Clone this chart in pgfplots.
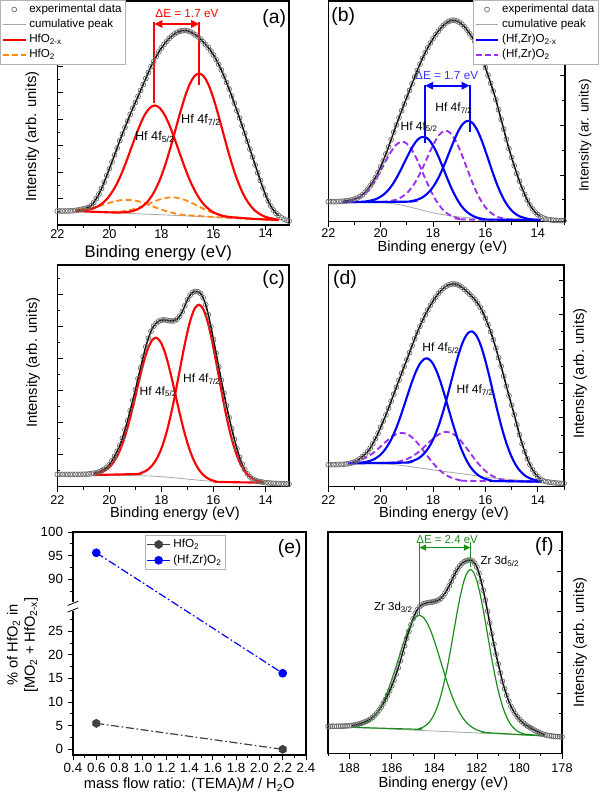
\documentclass[border=0pt]{standalone}
\usepackage{fontspec}
\setmainfont{Liberation Sans}
\usepackage{pgfplots}
\usepackage{pgfplotstable}
\pgfplotsset{compat=1.18}
\usetikzlibrary{arrows.meta}

\definecolor{expgray}{HTML}{6A6A6A}
\definecolor{bggray}{HTML}{A6A6A6}
\definecolor{hfred}{HTML}{FF0000}
\definecolor{hforange}{HTML}{FF8A1C}
\definecolor{hzblue}{HTML}{0000FF}
\definecolor{hzviolet}{HTML}{9B30F0}
\definecolor{zrgreen}{HTML}{1C8C1C}
\definecolor{hexgray}{HTML}{404040}
\definecolor{dEblue}{HTML}{3030FF}

\pgfdeclareplotmark{hexagon}{%
  \pgfpathmoveto{\pgfpointpolar{90}{1.1\pgfplotmarksize}}%
  \pgfpathlineto{\pgfpointpolar{150}{1.1\pgfplotmarksize}}%
  \pgfpathlineto{\pgfpointpolar{210}{1.1\pgfplotmarksize}}%
  \pgfpathlineto{\pgfpointpolar{270}{1.1\pgfplotmarksize}}%
  \pgfpathlineto{\pgfpointpolar{330}{1.1\pgfplotmarksize}}%
  \pgfpathlineto{\pgfpointpolar{30}{1.1\pgfplotmarksize}}%
  \pgfpathclose
  \pgfusepathqfillstroke}

% Hf 4f spectrum, HfO2 film, as deposited
\pgfplotstableread{
E h
22.0 14.0
21.9 14.0
21.8 14.0
21.7 14.0
21.6 14.0
21.5 14.1
21.4 14.3
21.3 14.6
21.2 15.0
21.1 15.5
21.0 16.1
20.9 16.8
20.8 17.6
20.7 19.3
20.6 22.5
20.5 26.5
20.4 31.0
20.3 36.5
20.2 42.8
20.1 49.5
20.0 56.2
19.9 63.0
19.8 70.0
19.7 77.0
19.6 84.3
19.5 91.0
19.4 97.5
19.3 104.0
19.2 110.5
19.1 116.7
19.0 122.5
18.9 128.5
18.8 134.5
18.7 140.5
18.6 146.5
18.5 152.5
18.4 158.5
18.3 163.5
18.2 168.5
18.1 173.0
18.0 177.0
17.9 180.6
17.8 183.8
17.7 186.6
17.6 189.0
17.5 191.0
17.4 192.6
17.3 193.7
17.2 194.3
17.1 194.5
17.0 194.2
16.9 193.3
16.8 192.0
16.7 190.2
16.6 188.2
16.5 186.0
16.4 183.2
16.3 180.3
16.2 177.5
16.1 174.0
16.0 170.0
15.9 165.5
15.8 160.5
15.7 155.0
15.6 149.0
15.5 142.5
15.4 136.0
15.3 129.0
15.2 121.7
15.1 114.3
15.0 107.0
14.9 99.3
14.8 91.5
14.7 83.7
14.6 75.8
14.5 68.0
14.4 60.0
14.3 52.2
14.2 44.5
14.1 37.0
14.0 30.0
13.9 24.0
13.8 19.0
13.7 15.0
13.6 11.8
13.5 9.5
13.4 7.6
13.3 6.0
13.2 4.8
13.1 3.8
}\expA

% Hf 4f spectrum, (Hf,Zr)O2 film
\pgfplotstableread{
E h
22.0 20.0
21.9 20.0
21.8 20.0
21.7 20.1
21.6 20.2
21.5 20.4
21.4 20.6
21.3 20.9
21.2 21.3
21.1 21.8
21.0 22.6
20.9 23.6
20.8 25.0
20.7 26.8
20.6 29.3
20.5 32.3
20.4 35.8
20.3 39.7
20.2 44.2
20.1 49.2
20.0 54.8
19.9 61.0
19.8 67.7
19.7 74.7
19.6 82.0
19.5 89.5
19.4 96.8
19.3 104.0
19.2 111.0
19.1 117.7
19.0 124.5
18.9 131.3
18.8 138.0
18.7 144.8
18.6 151.3
18.5 157.5
18.4 163.5
18.3 169.0
18.2 174.0
18.1 178.7
18.0 183.0
17.9 187.0
17.8 190.5
17.7 193.7
17.6 196.5
17.5 198.7
17.4 200.3
17.3 201.3
17.2 201.5
17.1 200.8
17.0 199.5
16.9 197.5
16.8 195.0
16.7 191.7
16.6 188.0
16.5 184.3
16.4 180.0
16.3 174.5
16.2 168.3
16.1 161.5
16.0 154.0
15.9 146.5
15.8 138.5
15.7 130.7
15.6 122.0
15.5 112.0
15.4 102.2
15.3 92.5
15.2 82.5
15.1 73.0
15.0 64.3
14.9 56.0
14.8 48.0
14.7 40.5
14.6 33.5
14.5 27.3
14.4 21.5
14.3 16.8
14.2 12.8
14.1 9.5
14.0 7.0
13.9 5.2
13.8 3.8
13.7 2.8
13.6 2.2
13.5 1.8
13.4 1.5
13.3 1.3
13.2 1.2
13.1 1.1
13.0 1.0
}\expB

% Hf 4f spectrum, HfO2 film, second process
\pgfplotstableread{
E h
22.0 12.3
21.9 12.3
21.8 12.3
21.7 12.3
21.6 12.3
21.5 12.3
21.4 12.3
21.3 12.3
21.2 12.3
21.1 12.3
21.0 12.4
20.9 12.5
20.8 12.7
20.7 13.0
20.6 13.4
20.5 14.0
20.4 14.8
20.3 16.0
20.2 17.5
20.1 19.3
20.0 22.0
19.9 26.0
19.8 30.5
19.7 35.5
19.6 41.0
19.5 48.5
19.4 57.0
19.3 66.0
19.2 76.0
19.1 86.5
19.0 97.0
18.9 108.0
18.8 119.0
18.7 130.0
18.6 140.0
18.5 148.5
18.4 155.5
18.3 160.5
18.2 163.5
18.1 165.5
18.0 166.5
17.9 166.8
17.8 166.5
17.7 166.0
17.6 165.7
17.5 166.0
17.4 167.5
17.3 170.5
17.2 175.0
17.1 181.0
17.0 187.0
16.9 191.5
16.8 194.3
16.7 195.3
16.6 195.0
16.5 193.3
16.4 189.0
16.3 182.0
16.2 172.0
16.1 160.0
16.0 147.0
15.9 133.5
15.8 120.0
15.7 106.5
15.6 93.5
15.5 81.0
15.4 69.0
15.3 58.0
15.2 47.5
15.1 38.0
15.0 29.5
14.9 22.5
14.8 17.0
14.7 12.8
14.6 9.8
14.5 7.8
14.4 6.5
14.3 5.6
14.2 5.0
14.1 4.5
14.0 4.1
13.9 3.8
13.8 3.6
13.7 3.4
13.6 3.2
13.5 3.1
13.4 3.0
13.3 2.9
13.2 2.8
13.1 2.7
}\expC

% Hf 4f spectrum, (Hf,Zr)O2 film, second process
\pgfplotstableread{
E h
22.0 22.0
21.9 22.0
21.8 22.0
21.7 22.1
21.6 22.2
21.5 22.3
21.4 22.5
21.3 22.8
21.2 23.2
21.1 23.8
21.0 24.7
20.9 26.0
20.8 27.8
20.7 30.0
20.6 32.3
20.5 35.0
20.4 38.5
20.3 43.0
20.2 48.0
20.1 53.5
20.0 59.5
19.9 65.5
19.8 71.8
19.7 78.5
19.6 85.5
19.5 92.5
19.4 99.5
19.3 106.5
19.2 113.5
19.1 120.3
19.0 127.0
18.9 134.0
18.8 141.0
18.7 148.0
18.6 154.5
18.5 160.5
18.4 166.3
18.3 171.8
18.2 176.8
18.1 181.5
18.0 185.7
17.9 189.5
17.8 193.0
17.7 196.0
17.6 198.5
17.5 200.5
17.4 201.8
17.3 202.6
17.2 202.8
17.1 202.3
17.0 201.2
16.9 199.5
16.8 197.3
16.7 195.0
16.6 192.5
16.5 189.8
16.4 187.0
16.3 183.5
16.2 179.5
16.1 174.5
16.0 168.5
15.9 162.0
15.8 155.0
15.7 147.0
15.6 138.5
15.5 129.0
15.4 120.5
15.3 110.5
15.2 100.5
15.1 91.0
15.0 81.5
14.9 72.0
14.8 62.0
14.7 52.0
14.6 43.0
14.5 35.0
14.4 28.0
14.3 22.0
14.2 17.0
14.1 13.0
14.0 10.0
13.9 7.5
13.8 6.0
13.7 5.2
13.6 4.7
13.5 4.3
13.4 4.0
13.3 3.7
13.2 3.5
13.1 3.3
13.0 3.2
}\expD

% Zr 3d spectrum, (Hf,Zr)O2 film
\pgfplotstableread{
E h
189.0 27.0
188.9 27.0
188.8 27.0
188.7 27.0
188.6 27.0
188.5 27.1
188.4 27.1
188.3 27.2
188.2 27.3
188.1 27.4
188.0 27.6
187.9 27.8
187.8 28.1
187.7 28.5
187.6 29.0
187.5 29.6
187.4 30.3
187.3 31.1
187.2 32.0
187.1 33.0
187.0 34.3
186.9 36.0
186.8 38.0
186.7 40.3
186.6 43.0
186.5 46.2
186.4 49.8
186.3 53.8
186.2 58.0
186.1 62.5
186.0 67.5
185.9 73.0
185.8 79.0
185.7 85.5
185.6 92.5
185.5 100.0
185.4 107.5
185.3 115.0
185.2 122.0
185.1 128.5
185.0 134.5
184.9 139.5
184.8 143.5
184.7 146.5
184.6 148.3
184.5 149.5
184.4 150.2
184.3 150.7
184.2 151.0
184.1 151.3
184.0 151.8
183.9 152.4
183.8 153.3
183.7 154.8
183.6 157.0
183.5 160.0
183.4 163.5
183.3 167.5
183.2 172.0
183.1 176.5
183.0 180.8
182.9 184.5
182.8 187.5
182.7 189.8
182.6 191.5
182.5 192.6
182.4 193.2
182.3 193.2
182.2 192.3
182.1 190.0
182.0 186.0
181.9 180.0
181.8 172.0
181.7 163.0
181.6 153.0
181.5 142.0
181.4 130.5
181.3 119.5
181.2 109.0
181.1 99.0
181.0 89.5
180.9 80.5
180.8 72.0
180.7 64.5
180.6 58.0
180.5 52.0
180.4 47.0
180.3 43.0
180.2 39.5
180.1 36.5
180.0 34.0
179.9 32.0
179.8 30.0
179.7 28.3
179.6 27.0
179.5 25.7
179.4 24.5
179.3 23.2
179.2 22.0
179.1 21.0
179.0 20.0
178.9 19.2
178.8 18.5
178.7 18.0
178.6 17.6
178.5 17.3
178.4 17.0
178.3 16.8
178.2 16.7
178.1 16.6
178.0 16.5
}\expF

\pgfplotsset{
  xps/.style={
    scale only axis, anchor=south west, x dir=reverse, ymin=0,
    axis line style={line width=0.8pt},
    tick style={black, line width=0.6pt},
    major tick length=4pt, minor tick length=2.4pt,
    xtick={14,16,18,20,22}, minor xtick={13,15,17,19,21},
    xtick pos=left, xtick align=outside, ytick align=inside,
    yticklabels={},
    tick label style={font=\fontsize{9.5}{11}\selectfont},
    /pgf/number format/assume math mode=true,
    label style={font=\fontsize{11}{13}\selectfont},
    legend cell align=left,
    legend style={draw=gray!60, line width=0.5pt, fill=white, inner sep=1pt,
      row sep=-0.5pt, font=\fontsize{8.7}{10.2}\selectfont},
  },
  expdata/.style={only marks, mark=o, mark size=1.85pt, expgray,
    mark options={line width=0.5pt}},
  cumul/.style={black, line width=1.1pt, smooth, no marks},
  basel/.style={bggray, line width=0.6pt, no marks},
  comp/.style={line width=1.6pt, smooth, no marks},
  dashcomp/.style={line width=1.4pt, smooth, no marks, dash pattern=on 4.5pt off 2.5pt},
}
\tikzset{
  dEarrow/.style={{Triangle[length=6pt,width=5.5pt]}-{Triangle[length=6pt,width=5.5pt]}},
  annot/.style={font=\fontsize{9}{10}\selectfont},
  panel/.style={font=\fontsize{14.5}{16}\selectfont},
}

\begin{document}
\begin{tikzpicture}
\path[use as bounding box] (0,0) rectangle (450pt,594.75pt);

%% (a) HfO2: Hf 4f
\begin{axis}[xps,
  at={(42.975pt,426pt)}, width=173.78pt, height=168pt,
  xmin=13.1, xmax=22, ymax=224,
  xticklabel shift=-2pt,
  xticklabel style={inner sep=1pt},
  ytick pos=left,
  ytick={26.5,53,79.5,106,132.5,159,185.5,212},
  minor ytick={13.25,39.75,66.25,92.75,119.25,145.75,172.25,198.75},
  xlabel={Binding energy (eV)}, ylabel={Intensity (arb. units)},
  xlabel style={at={(axis description cs:0.436,-0.125)}, anchor=center, inner sep=0pt, font=\fontsize{12.5}{14}\selectfont},
  ylabel style={at={(axis description cs:-0.108,0.394)}, anchor=center},
  legend style={at={(axis description cs:-0.247,1.0045)}, anchor=north west},
]
\addlegendimage{expdata}\addlegendentry{experimental data}
\addlegendimage{basel}\addlegendentry{cumulative peak}
\addlegendimage{hfred, line width=1.6pt}\addlegendentry{HfO\textsubscript{2-x}}
\addlegendimage{hforange, line width=1.4pt, dash pattern=on 4.5pt off 2.5pt}\addlegendentry{HfO\textsubscript{2}}

\addplot[expdata, forget plot] table[x=E, y=h] {\expA};
\addplot[basel, forget plot] coordinates {(13.5,5.0) (21.3,14.0)};
\addplot[cumul, forget plot, restrict x to domain=13.5:21.3] table[x=E, y=h] {\expA};
% HfO2 doublet
\addplot[dashcomp, hforange, forget plot] coordinates {
(13.5,5.0) (14.5,6.2) (15.39,8.2) (15.75,10.0) (16.11,13.0) (16.47,17.2) (16.83,22.0)
(17.19,25.9) (17.55,27.7) (17.91,26.7) (18.27,23.6) (18.63,19.7) (18.99,16.3)
(19.35,14.2) (19.71,13.2) (20.5,13.1) (21.3,14.0)};
\addplot[dashcomp, hforange, forget plot] coordinates {
(13.5,5.0) (15.5,7.3) (17.09,9.9) (17.45,11.4) (17.81,13.8) (18.17,17.0) (18.53,20.6)
(18.89,23.7) (19.25,25.1) (19.61,24.6) (19.97,22.3) (20.33,19.5) (20.69,17.1)
(21.05,15.5) (21.3,15.0)};
% HfO2-x doublet
\addplot[comp, hfred, forget plot] coordinates {
(13.5,5.0) (13.67,6.1) (13.85,7.0) (14.03,8.4) (14.21,10.7) (14.39,14.0) (14.57,19.0)
(14.75,25.8) (14.93,35.0) (15.11,46.7) (15.29,60.8) (15.47,76.9) (15.65,94.2)
(15.83,111.5) (16.01,127.3) (16.19,140.1) (16.37,148.5) (16.55,151.5) (16.73,148.9)
(16.91,141.0) (17.09,128.6) (17.27,113.2) (17.45,96.3) (17.63,79.4) (17.81,63.7)
(17.99,50.0) (18.17,38.7) (18.35,29.9) (18.53,23.5) (18.71,19.0) (18.89,16.1)
(19.07,14.2) (19.25,13.2) (19.43,12.7) (19.79,12.5) (20.5,13.1) (21.3,14.0)};
\addplot[comp, hfred, forget plot] coordinates {
(13.5,5.0) (14.5,6.2) (15.37,7.9) (15.55,8.6) (15.73,9.8) (15.91,11.5) (16.09,14.1)
(16.27,17.9) (16.45,23.1) (16.63,30.2) (16.81,39.1) (16.99,49.9) (17.17,62.3)
(17.35,75.6) (17.53,88.8) (17.71,100.9) (17.89,110.7) (18.07,117.1) (18.25,119.5)
(18.43,117.5) (18.61,111.5) (18.79,102.1) (18.97,90.4) (19.15,77.6) (19.33,64.8)
(19.51,52.8) (19.69,42.4) (19.87,34.0) (20.05,27.3) (20.23,22.5) (20.41,19.1)
(20.59,16.9) (20.77,15.6) (20.95,14.8) (21.13,14.5) (21.3,14.3)};

\draw[hfred, line width=1.6pt] (axis cs:18.27,121.7) -- (axis cs:18.27,203.3);
\draw[hfred, line width=1.6pt] (axis cs:16.55,140) -- (axis cs:16.55,203.3);
\draw[hfred, line width=1.6pt, dEarrow] (axis cs:18.27,201) -- (axis cs:16.55,201);
\node[text=hfred, font=\fontsize{8.8}{10}\selectfont] at (axis cs:17.02,211) {ΔE = 1.7 eV};
\node[font=\fontsize{9.5}{11}\selectfont] at (axis cs:18.25,87.7) {Hf 4f\textsubscript{5/2}};
\node[font=\fontsize{9.5}{11}\selectfont] at (axis cs:16.48,105) {Hf 4f\textsubscript{7/2}};
\node[panel] at (axis cs:13.67,206) {(a)};
\end{axis}

%% (b) (Hf,Zr)O2: Hf 4f
\begin{axis}[xps,
  at={(246.225pt,428.475pt)}, width=177.53pt, height=165.53pt,
  xmin=12.96, xmax=22, ymax=220.7,
  xticklabel shift=-2pt,
  ytick pos=right,
  ytick={46.7,96.4,146.1,195.8},
  minor ytick={21.8,71.5,121.2,171},
  xlabel={Binding energy (eV)}, ylabel={Intensity (ar. units)},
  xlabel style={at={(axis description cs:0.482,-0.118)}, anchor=center},
  ylabel style={at={(axis description cs:1.0845,0.39)}, anchor=center, font=\fontsize{10.2}{12}\selectfont},
  legend style={at={(axis description cs:0.611,1.0045)}, anchor=north west},
]
\addlegendimage{expdata}\addlegendentry{experimental data}
\addlegendimage{basel}\addlegendentry{cumulative peak}
\addlegendimage{hzblue, line width=1.6pt}\addlegendentry{(Hf,Zr)O\textsubscript{2-x}}
\addlegendimage{hzviolet, line width=1.4pt, dash pattern=on 4.5pt off 2.5pt}\addlegendentry{(Hf,Zr)O\textsubscript{2}}

\addplot[expdata, forget plot] table[x=E, y=h] {\expB};
\addplot[basel, smooth, forget plot] coordinates {
(13.9,1.7) (14.8,1.9) (15.95,2.7) (17.1,5.0) (17.99,8.8) (18.6,12.8) (19.26,17.0)
(19.8,18.6) (20.5,19.2) (21.45,19.5)};
\addplot[cumul, forget plot, restrict x to domain=13.9:21.45] table[x=E, y=h] {\expB};
% (Hf,Zr)O2 doublet
\addplot[dashcomp, hzviolet, forget plot] coordinates {
(13.9,1.7) (15.05,2.2) (15.2,2.6) (15.35,3.4) (15.5,4.5) (15.65,6.4) (15.8,9.1)
(15.95,12.9) (16.1,18.1) (16.25,24.9) (16.4,33.1) (16.55,42.7) (16.7,53.0) (16.85,63.6)
(17.0,73.4) (17.15,81.6) (17.3,87.6) (17.45,90.6) (17.6,90.4) (17.75,87.2) (17.9,81.4)
(18.05,73.8) (18.2,65.2) (18.35,56.4) (18.5,48.1) (18.65,40.7) (18.8,34.7) (18.95,29.9)
(19.1,26.4) (19.25,23.9) (19.4,22.1) (19.55,21.1) (19.7,20.4) (19.85,20.0) (21.45,19.5)};
\addplot[dashcomp, hzviolet, forget plot] coordinates {
(13.9,1.7) (16.7,2.1) (16.85,2.5) (17.0,3.2) (17.15,4.1) (17.3,5.8) (17.45,8.1)
(17.6,11.4) (17.75,16.0) (17.9,21.9) (18.05,29.0) (18.2,37.4) (18.35,46.3) (18.5,55.6)
(18.65,64.2) (18.8,71.5) (18.95,76.8) (19.1,79.6) (19.25,79.6) (19.4,77.1) (19.55,72.2)
(19.7,65.8) (19.85,58.5) (20.0,51.1) (20.15,44.0) (20.3,37.7) (20.45,32.6) (20.6,28.4)
(20.75,25.4) (20.9,23.3) (21.05,21.7) (21.2,20.9) (21.35,20.3) (21.45,20.0)};
% (Hf,Zr)O2-x doublet
\addplot[comp, hzblue, forget plot] coordinates {
(13.9,1.7) (14.2,2.2) (14.35,2.7) (14.5,3.6) (14.65,4.9) (14.8,6.9) (14.95,10.0)
(15.1,14.3) (15.25,20.1) (15.4,27.7) (15.55,36.9) (15.7,47.6) (15.85,59.1) (16.0,70.8)
(16.15,81.8) (16.3,90.9) (16.45,97.4) (16.6,100.6) (16.75,100.2) (16.9,96.5) (17.05,89.8)
(17.2,81.0) (17.35,71.3) (17.5,61.3) (17.65,51.9) (17.8,43.5) (17.95,36.7) (18.1,31.3)
(18.25,27.3) (18.4,24.4) (18.55,22.5) (18.7,21.3) (18.85,20.5) (19.0,20.0) (21.45,19.5)};
\addplot[comp, hzblue, forget plot] coordinates {
(13.9,1.7) (15.9,2.1) (16.05,2.5) (16.2,3.3) (16.35,4.3) (16.5,6.1) (16.65,8.6)
(16.8,12.1) (16.95,16.9) (17.1,23.3) (17.25,30.9) (17.4,39.8) (17.55,49.4) (17.7,59.2)
(17.85,68.4) (18.0,76.1) (18.15,81.7) (18.3,84.6) (18.45,84.5) (18.6,81.7) (18.75,76.4)
(18.9,69.4) (19.05,61.6) (19.2,53.5) (19.35,45.9) (19.5,39.1) (19.65,33.5) (19.8,29.1)
(19.95,25.9) (20.1,23.6) (20.25,21.9) (20.4,21.0) (20.55,20.3) (20.7,19.9) (21.45,19.5)};

\draw[hzblue, line width=1.6pt] (axis cs:18.3,78.3) -- (axis cs:18.3,136.5);
\draw[hzblue, line width=1.6pt] (axis cs:16.6,90) -- (axis cs:16.6,137);
\draw[hzblue, line width=1.6pt, dEarrow] (axis cs:18.3,136) -- (axis cs:16.6,136);
\node[text=dEblue, font=\fontsize{8.8}{10}\selectfont] at (axis cs:17.48,146) {ΔE = 1.7 eV};
\node[annot] at (axis cs:18.53,95) {Hf 4f\textsubscript{5/2}};
\node[annot] at (axis cs:17.2,113.3) {Hf 4f\textsubscript{7/2}};
\node[panel] at (axis cs:21.43,205) {(b)};
\end{axis}

%% (c) HfO2: Hf 4f, second process
\begin{axis}[xps,
  at={(42.975pt,229.725pt)}, width=173.78pt, height=166.28pt,
  xmin=13.1, xmax=22, ymax=221.7,
  xticklabel shift=-1pt,
  ytick pos=left,
  ytick={32.2,64.2,96.2,128.2,160.2,192.2},
  minor ytick={16.2,48.2,80.2,112.2,144.2,176.2,208.2},
  xlabel={Binding energy (eV)}, ylabel={Intensity (arb. units)},
  xlabel style={at={(axis description cs:0.508,-0.121)}, anchor=center},
  ylabel style={at={(axis description cs:-0.104,0.56)}, anchor=center},
]
\addplot[expdata] table[x=E, y=h] {\expC};
\addplot[basel, smooth] coordinates {
(14.05,4.0) (15.4,4.6) (16.2,5.7) (17.0,7.6) (17.8,9.6) (18.7,10.9) (20.6,11.7)};
\addplot[cumul, restrict x to domain=14.05:20.6] table[x=E, y=h] {\expC};
\addplot[comp, hfred] coordinates {
(14.05,4.5) (14.15,5.0) (14.3,5.9) (14.45,7.4) (14.6,9.9) (14.75,13.9) (14.9,19.6)
(15.05,27.7) (15.2,38.7) (15.35,52.8) (15.5,69.9) (15.65,89.6) (15.8,110.7) (15.95,131.9)
(16.1,151.4) (16.25,167.3) (16.4,177.8) (16.55,181.9) (16.7,179.1) (16.85,169.7)
(17.0,154.9) (17.15,136.4) (17.3,116.0) (17.45,95.5) (17.6,76.4) (17.75,59.7) (17.9,45.8)
(18.05,35.0) (18.2,27.1) (18.35,21.4) (18.5,17.6) (18.65,15.1) (18.8,13.6) (18.95,12.7)
(20.6,11.7)};
\addplot[comp, hfred] coordinates {
(14.05,4.0) (15.8,4.8) (15.95,5.6) (16.1,6.8) (16.25,8.8) (16.4,12.0) (16.55,16.6)
(16.7,23.3) (16.85,32.2) (17.0,43.6) (17.15,57.5) (17.3,73.5) (17.45,90.7) (17.6,108.0)
(17.75,123.9) (17.9,136.9) (18.05,145.4) (18.2,148.9) (18.35,146.7) (18.5,139.3)
(18.65,127.4) (18.8,112.5) (18.95,96.0) (19.1,79.4) (19.25,64.0) (19.4,50.5) (19.55,39.3)
(19.7,30.6) (19.85,24.1) (20.0,19.5) (20.15,16.5) (20.3,14.5) (20.45,13.3) (20.6,12.5)};
\node[annot] at (axis cs:18.12,95) {Hf 4f\textsubscript{5/2}};
\node[annot] at (axis cs:16.45,107.3) {Hf 4f\textsubscript{7/2}};
\node[panel] at (axis cs:13.69,206.7) {(c)};
\end{axis}

%% (d) (Hf,Zr)O2: Hf 4f, second process
\begin{axis}[xps,
  at={(246.225pt,229.725pt)}, width=176.78pt, height=166.28pt,
  xmin=13.0, xmax=22, ymax=221.7,
  xticklabel shift=-1pt,
  ytick pos=right,
  ytick={34.4,68.8,103.2,137.6,172,206.4},
  minor ytick={17.2,51.6,86,120.4,154.8,189.2},
  xlabel={Binding energy (eV)}, ylabel={Intensity (arb. units)},
  xlabel style={at={(axis description cs:0.491,-0.121)}, anchor=center},
  ylabel style={at={(axis description cs:1.068,0.51)}, anchor=center},
]
\addplot[expdata] table[x=E, y=h] {\expD};
\addplot[basel, smooth] coordinates {
(13.85,5.0) (14.8,6.7) (15.95,9.3) (16.5,11.5) (17.5,15.0) (18.5,18.7) (19.26,21.5)
(20.0,22.8) (21.25,23.3)};
\addplot[cumul, restrict x to domain=13.85:21.25] table[x=E, y=h] {\expD};
\addplot[dashcomp, hzviolet] coordinates {
(13.85,5.0) (15.1,5.9) (15.26,6.5) (15.42,7.4) (15.58,8.9) (15.74,10.8) (15.9,13.6)
(16.06,17.1) (16.22,21.5) (16.38,26.6) (16.54,32.2) (16.7,37.9) (16.86,43.4) (17.02,48.2)
(17.18,51.9) (17.34,54.2) (17.5,54.8) (17.66,53.9) (17.82,51.7) (17.98,48.4) (18.14,44.7)
(18.3,40.7) (18.46,36.8) (18.62,33.4) (18.78,30.5) (18.94,28.3) (19.1,26.7) (19.26,25.4)
(19.42,24.6) (19.58,24.1) (21.25,23.4)};
\addplot[dashcomp, hzviolet] coordinates {
(13.85,5.0) (16.8,5.9) (16.96,6.4) (17.12,7.4) (17.28,8.8) (17.44,10.7) (17.6,13.4)
(17.76,16.8) (17.92,21.1) (18.08,26.1) (18.24,31.6) (18.4,37.2) (18.56,42.6) (18.72,47.3)
(18.88,50.9) (19.04,53.2) (19.2,53.8) (19.36,53.0) (19.52,50.9) (19.68,47.7) (19.84,44.1)
(20.0,40.2) (20.16,36.4) (20.32,33.1) (20.48,30.3) (20.64,28.2) (20.8,26.6) (20.96,25.4)
(21.12,24.5) (21.25,24.0)};
\addplot[comp, hzblue] coordinates {
(13.85,5.4) (13.94,5.8) (14.1,6.6) (14.26,7.9) (14.42,9.9) (14.58,13.1) (14.74,17.8)
(14.9,24.5) (15.06,33.6) (15.22,45.2) (15.38,59.4) (15.54,75.7) (15.7,93.4) (15.86,111.3)
(16.02,127.8) (16.18,141.5) (16.34,150.9) (16.5,155.2) (16.66,153.8) (16.82,147.2)
(16.98,136.1) (17.14,121.8) (17.3,105.9) (17.46,89.8) (17.62,74.7) (17.78,61.5)
(17.94,50.5) (18.1,42.0) (18.26,35.6) (18.42,31.1) (18.58,28.0) (18.74,26.1) (18.9,24.9)
(19.06,24.1) (21.25,23.3)};
\addplot[comp, hzblue] coordinates {
(13.85,5.0) (15.64,5.7) (15.8,6.3) (15.96,7.4) (16.12,9.0) (16.28,11.6) (16.44,15.4)
(16.6,20.8) (16.76,28.3) (16.92,37.7) (17.08,49.3) (17.24,62.6) (17.4,77.0) (17.56,91.7)
(17.72,105.2) (17.88,116.5) (18.04,124.4) (18.2,128.2) (18.36,127.3) (18.52,122.2)
(18.68,113.5) (18.84,102.2) (19.0,89.5) (19.16,76.7) (19.32,64.6) (19.48,54.0)
(19.64,45.2) (19.8,38.3) (19.96,33.2) (20.12,29.6) (20.28,27.1) (20.44,25.6) (20.6,24.6)
(20.76,24.0) (21.25,23.5)};
\node[annot] at (axis cs:17.7,138.3) {Hf 4f\textsubscript{5/2}};
\node[annot] at (axis cs:16.39,96.7) {Hf 4f\textsubscript{7/2}};
\node[panel] at (axis cs:21.36,206.7) {(d)};
\end{axis}

%% (e) share of the stoichiometric oxide
\begin{axis}[
  scale only axis, anchor=south west, clip=false,
  at={(54.75pt,28.5pt)}, width=174.75pt, height=167.25pt,
  xmin=0.4, xmax=2.4, ymin=-1.2, ymax=46,
  axis line style={line width=0.8pt},
  tick style={black, line width=0.6pt},
  major tick length=4pt, minor tick length=2.4pt,
  tick align=outside, tick pos=left,
  xtick={0.4,0.6,0.8,1.0,1.2,1.4,1.6,1.8,2.0,2.2,2.4},
  minor x tick num=1,
  xticklabel shift=-1.5pt,
  xticklabel style={/pgf/number format/fixed, /pgf/number format/fixed zerofill,
    /pgf/number format/precision=1},
  ytick={0,5,10,15,20,25,36,41,46},
  yticklabels={0,5,10,15,20,25,90,95,100},
  minor ytick={2.5,7.5,12.5,17.5,22.5,27.5,33.5,38.5,43.5},
  tick label style={font=\fontsize{10}{12}\selectfont},
  /pgf/number format/assume math mode=true,
  xlabel={mass flow ratio: (TEMA)\textit{M} / H\textsubscript{2}O},
  ylabel={\% of HfO\textsubscript{2} in\\{[}MO\textsubscript{2} + HfO\textsubscript{2-x}{]}},
  label style={font=\fontsize{11}{13}\selectfont},
  xlabel style={at={(axis description cs:0.499,-0.135)}, anchor=center},
  ylabel style={at={(axis description cs:-0.217,0.493)}, anchor=center, align=center},
  legend cell align=left,
  legend style={at={(axis description cs:0.309,0.987)}, anchor=north west,
    draw=gray!60, line width=0.5pt, fill=white, inner sep=1pt, row sep=0pt,
    font=\fontsize{8.8}{10.5}\selectfont},
]
\addlegendimage{hexgray, line width=0.9pt, dash pattern=on 6pt off 2pt on 1.2pt off 2pt,
  mark=hexagon, mark size=2.6pt, mark options={solid, fill=hexgray}}
\addlegendentry{HfO\textsubscript{2}}
\addlegendimage{hzblue, line width=0.9pt, dash pattern=on 6pt off 2pt on 1.2pt off 2pt,
  mark=*, mark size=2.8pt, mark options={solid, fill=hzblue}}
\addlegendentry{(Hf,Zr)O\textsubscript{2}}
% values above the break are drawn 54 units lower
\addplot[hexgray, line width=0.9pt, dash pattern=on 6pt off 2pt on 1.2pt off 2pt,
  mark=hexagon, mark size=2.6pt, mark options={solid, fill=hexgray}, forget plot]
  table[row sep=\\, y expr={\thisrow{y}>57 ? \thisrow{y}-54 : \thisrow{y}}]
  {x y\\ 0.6 5.5\\ 2.2 0.0\\};
\addplot[hzblue, line width=0.9pt, dash pattern=on 6pt off 2pt on 1.2pt off 2pt,
  mark=*, mark size=2.8pt, mark options={solid, fill=hzblue}, forget plot]
  table[row sep=\\, y expr={\thisrow{y}>57 ? \thisrow{y}-54 : \thisrow{y}}]
  {x y\\ 0.6 95.6\\ 2.2 16.1\\};
% axis break on the y axis
\draw[white, line width=4pt] (axis cs:0.4,29.3) -- (axis cs:0.4,31.1);
\draw[black, line width=0.6pt] ([shift={(-4pt,-1.6pt)}]axis cs:0.4,29.5) -- ([shift={(4pt,1.6pt)}]axis cs:0.4,29.5);
\draw[black, line width=0.6pt] ([shift={(-4pt,-1.6pt)}]axis cs:0.4,30.9) -- ([shift={(4pt,1.6pt)}]axis cs:0.4,30.9);
\node[panel] at (axis cs:2.26,42.6) {(e)};
\end{axis}

%% (f) (Hf,Zr)O2: Zr 3d
\begin{axis}[xps,
  at={(246pt,29.775pt)}, width=175.5pt, height=165.98pt,
  xmin=178, xmax=189, ymax=221.3,
  xtick={178,180,182,184,186,188}, minor xtick={179,181,183,185,187,189},
  ytick pos=right,
  ytick={19.3,60,100.7,141.4,182.1},
  minor ytick={39.6,80.3,121,161.7,202.4},
  xlabel={Binding energy (eV)}, ylabel={Intensity (arb. units)},
  xlabel style={at={(axis description cs:0.493,-0.136)}, anchor=center},
  ylabel style={at={(axis description cs:1.077,0.50)}, anchor=center},
]
\addplot[expdata] table[x=E, y=h] {\expF};
\addplot[basel] coordinates {(178.8,17.3) (187.9,26.0)};
\addplot[cumul, restrict x to domain=178.8:187.9] table[x=E, y=h] {\expF};
\addplot[zrgreen, line width=0.9pt, smooth, no marks] coordinates {
(178.8,17.3) (179.74,19.2) (179.9,20.2) (180.06,21.7) (180.22,24.2) (180.38,27.9)
(180.54,33.5) (180.7,41.2) (180.86,51.6) (181.02,64.7) (181.18,80.8) (181.34,99.0)
(181.5,118.8) (181.66,138.4) (181.82,156.4) (181.98,170.8) (182.14,180.3) (182.3,183.7)
(182.46,180.6) (182.62,171.5) (182.78,157.3) (182.94,139.7) (183.1,120.3) (183.26,100.9)
(183.42,82.9) (183.58,67.2) (183.74,54.3) (183.9,44.3) (184.06,36.8) (184.22,31.6)
(184.38,28.1) (184.54,26.0) (184.7,24.7) (184.86,24.1) (187.9,26.0)};
\addplot[zrgreen, line width=0.9pt, smooth, no marks] coordinates {
(178.8,17.3) (181.5,20.6) (181.7,21.4) (181.9,22.6) (182.1,24.4) (182.3,27.2) (182.5,31.0)
(182.7,36.6) (182.9,44.0) (183.1,53.4) (183.3,64.8) (183.5,77.8) (183.7,91.7) (183.9,105.7)
(184.1,118.5) (184.3,128.8) (184.5,135.5) (184.7,137.9) (184.9,135.8) (185.1,129.5)
(185.3,119.6) (185.5,107.2) (185.7,93.6) (185.9,80.1) (186.1,67.5) (186.3,56.5)
(186.5,47.5) (186.7,40.5) (186.9,35.2) (187.1,31.7) (187.3,29.3) (187.5,27.9) (187.7,27.1)
(187.9,26.7)};
\draw[zrgreen, line width=0.9pt] (axis cs:184.7,138) -- (axis cs:184.7,211.7);
\draw[zrgreen, line width=0.9pt] (axis cs:182.3,186.7) -- (axis cs:182.3,211.7);
\draw[zrgreen, line width=0.9pt, {Triangle[length=5pt,width=4.5pt]}-{Triangle[length=5pt,width=4.5pt]}]
  (axis cs:184.7,205.7) -- (axis cs:182.3,205.7);
\node[text=zrgreen, font=\fontsize{8.6}{10}\selectfont] at (axis cs:183.4,214) {ΔE = 2.4 eV};
\node[font=\fontsize{8.6}{10}\selectfont] at (axis cs:180.92,191.7) {Zr 3d\textsubscript{5/2}};
\node[font=\fontsize{8.6}{10}\selectfont] at (axis cs:185.92,146) {Zr 3d\textsubscript{3/2}};
\node[panel] at (axis cs:178.83,206.6) {(f)};
\end{axis}
\end{tikzpicture}
\end{document}
